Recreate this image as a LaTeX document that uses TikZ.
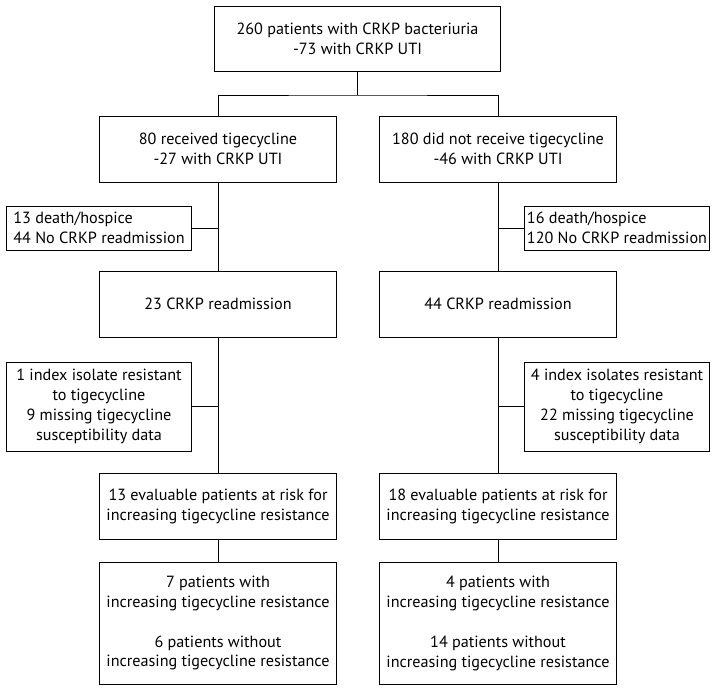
\documentclass[tikz,border=0pt]{standalone}
\usepackage{fontspec}
\setmainfont{PT Sans}
\usepackage{tikz}
\usetikzlibrary{positioning, calc}
\tikzset{
  flowbox/.style={rectangle, draw=black, line width=0.7pt,
                  minimum width=5.9cm, minimum height=1.65cm,
                  align=center, inner sep=2pt,
                  font=\fontsize{11.5}{14.2}\selectfont},
  topbox/.style={flowbox, minimum width=7.125cm, minimum height=1.625cm},
  outbox/.style={flowbox, minimum width=4.6cm, minimum height=1.1cm},
  outlist/.style={outbox, align=left},
  lastbox/.style={flowbox, minimum height=3.05cm},
  flowline/.style={draw=black, line width=0.7pt},
}
\begin{document}
\begin{tikzpicture}[x=0.025cm, y=-0.025cm]
    \useasboundingbox (0,0) rectangle (714,691);
    % Cohort
    \node[topbox] (cohort) at (357.5, 38.5)
      {260 patients with CRKP bacteriuria\\-73 with CRKP UTI};
    \coordinate (split) at (357.5, 95);
    % Treatment groups
    \node[flowbox] (recv) at (218, 149)
      {80 received tigecycline\\-27 with CRKP UTI};
    \node[flowbox] (norecv) at (498, 149)
      {180 did not receive tigecycline\\-46 with CRKP UTI};
    % Lost to follow-up
    \node[outlist] (lossA) at (99, 228)
      {13 death/hospice\\44 No CRKP readmission};
    \node[outlist] (lossB) at (617, 228)
      {16 death/hospice\\120 No CRKP readmission};
    % Readmissions
    \node[flowbox] (readmA) at (218, 304) {23 CRKP readmission};
    \node[flowbox] (readmB) at (498, 304) {44 CRKP readmission};
    % Excluded isolates
    \node[outbox, minimum height=2.225cm] (exclA) at (99, 406.5)
      {1 index isolate resistant\\to tigecycline\\9 missing tigecycline\\susceptibility data};
    \node[outbox, minimum height=2.225cm] (exclB) at (617, 406.5)
      {4 index isolates resistant\\to tigecycline\\22 missing tigecycline\\susceptibility data};
    % At risk
    \node[flowbox] (riskA) at (218, 506)
      {13 evaluable patients at risk for\\increasing tigecycline resistance};
    \node[flowbox] (riskB) at (498, 506)
      {18 evaluable patients at risk for\\increasing tigecycline resistance};
    % Outcomes
    \node[lastbox] (outA) at (218, 623)
      {7 patients with\\increasing tigecycline resistance\\[0.5cm]6 patients without\\increasing tigecycline resistance};
    \node[lastbox] (outB) at (498, 623)
      {4 patients with\\increasing tigecycline resistance\\[0.5cm]14 patients without\\increasing tigecycline resistance};
    % Connectors
    \draw[flowline] (cohort) -- (split);
    \draw[flowline] (recv.north) |- (split) -| (norecv.north);
    \draw[flowline] (recv) -- (readmA);
    \draw[flowline] (norecv) -- (readmB);
    \draw[flowline] (lossA.east) -- (lossA.east -| recv.south);
    \draw[flowline] (lossB.west) -- (lossB.west -| norecv.south);
    \draw[flowline] (readmA) -- (riskA);
    \draw[flowline] (readmB) -- (riskB);
    \draw[flowline] (exclA.east) -- (exclA.east -| readmA.south);
    \draw[flowline] (exclB.west) -- (exclB.west -| readmB.south);
    \draw[flowline] (riskA) -- (outA);
    \draw[flowline] (riskB) -- (outB);
\end{tikzpicture}
\end{document}
